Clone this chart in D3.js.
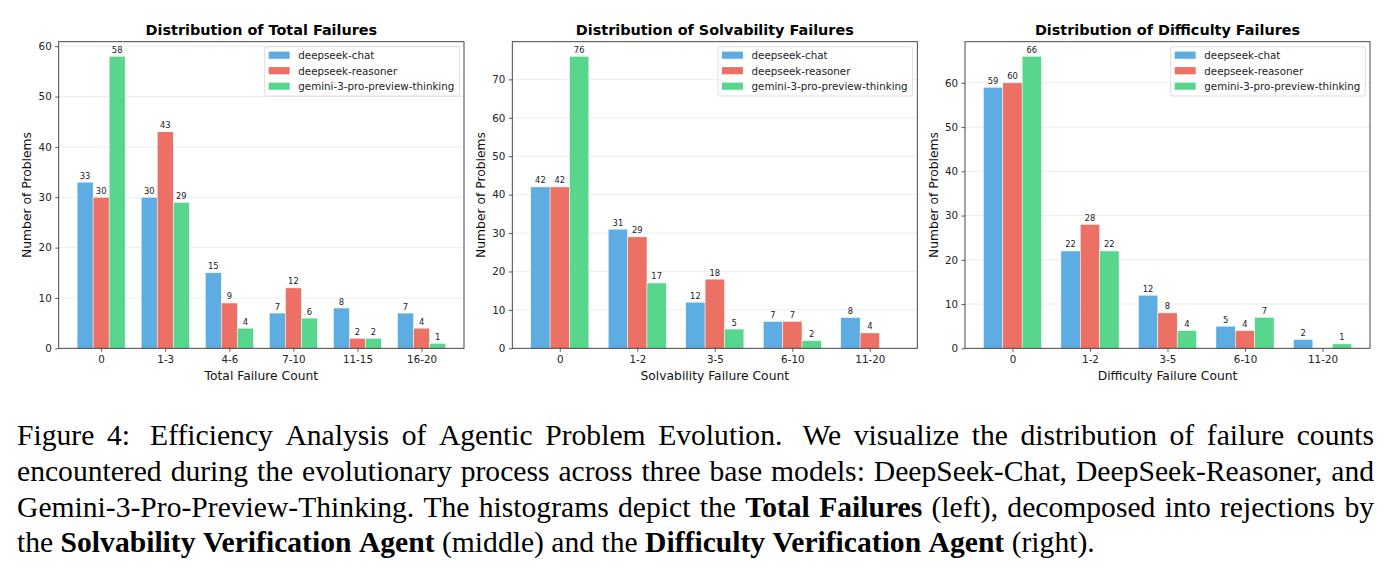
<!DOCTYPE html>
<html><head><meta charset="utf-8">
<script src="https://cdn.jsdelivr.net/npm/d3@7"></script>
<style>body{margin:0;background:#fff} svg{display:block}</style></head>
<body>
<svg id="c" width="1393" height="574"></svg>
<script>
// ---------- data ----------
const seriesNames = ["deepseek-chat", "deepseek-reasoner", "gemini-3-pro-preview-thinking"];
const seriesColors = ["#5DADE2", "#EC7063", "#58D68D"];

const totalCats = ["0", "1-3", "4-6", "7-10", "11-15", "16-20"];
const totalChat = [33, 30, 15, 7, 8, 7];
const totalReasoner = [30, 43, 9, 12, 2, 4];
const totalGemini = [58, 29, 4, 6, 2, 1];

const solvCats = ["0", "1-2", "3-5", "6-10", "11-20"];
const solvChat = [42, 31, 12, 7, 8];
const solvReasoner = [42, 29, 18, 7, 4];
const solvGemini = [76, 17, 5, 2, 0];

const diffCats = ["0", "1-2", "3-5", "6-10", "11-20"];
const diffChat = [59, 22, 12, 5, 2];
const diffReasoner = [60, 28, 8, 4, 0];
const diffGemini = [66, 22, 4, 7, 1];

const panelTitles = ["Distribution of Total Failures", "Distribution of Solvability Failures", "Distribution of Difficulty Failures"];
const xLabels = ["Total Failure Count", "Solvability Failure Count", "Difficulty Failure Count"];
const yLabel = "Number of Problems";

const captionLines = [
  [["Figure 4:  Efficiency Analysis of Agentic Problem Evolution.  We visualize the distribution of failure counts", false]],
  [["encountered during the evolutionary process across three base models: DeepSeek-Chat, DeepSeek-Reasoner, and", false]],
  [["Gemini-3-Pro-Preview-Thinking. The histograms depict the", false], ["Total Failures", true], ["(left), decomposed into rejections by", false]],
  [["the", false], ["Solvability Verification Agent", true], ["(middle) and the", false], ["Difficulty Verification Agent", true], ["(right).", false]]
];

// ---------- layout ----------
const svg = d3.select("#c");
const SANS = "DejaVu Sans, sans-serif";
const panels = [
  {cats: totalCats, vals: [totalChat, totalReasoner, totalGemini], left: 58.7, right: 464},
  {cats: solvCats, vals: [solvChat, solvReasoner, solvGemini], left: 512.3, right: 917.3},
  {cats: diffCats, vals: [diffChat, diffReasoner, diffGemini], left: 965, right: 1370}
];
const axTop = 41.7, axBottom = 348.3;
const barW = 0.25;

panels.forEach((p, pi) => {
  const n = p.cats.length;
  const lo = -1.5 * barW, hi = n - 1 + 1.5 * barW;
  const pad = 0.05 * (hi - lo);
  const x = d3.scaleLinear().domain([lo - pad, hi + pad]).range([p.left, p.right]);
  const maxV = d3.max(p.vals.flat());
  const y = d3.scaleLinear().domain([0, maxV * 1.05]).range([axBottom, axTop]);
  const yt = d3.range(0, maxV * 1.05, 10);
  const g = svg.append("g");

  // grid
  g.append("g").selectAll("line").data(yt.filter(v => v > 0)).join("line")
    .attr("x1", p.left).attr("x2", p.right)
    .attr("y1", d => y(d)).attr("y2", d => y(d))
    .attr("stroke", "#b0b0b0").attr("stroke-opacity", 0.3).attr("stroke-width", 0.8);

  // bars
  p.vals.forEach((arr, si) => {
    const off = (si - 1) * barW;
    g.append("g").selectAll("rect").data(arr).join("rect")
      .attr("x", (d, i) => x(i + off - barW / 2))
      .attr("width", x(barW) - x(0))
      .attr("y", d => y(d))
      .attr("height", d => y(0) - y(d))
      .attr("fill", seriesColors[si])
      .attr("stroke", "#fff").attr("stroke-width", 0.5);
    g.append("g").selectAll("text").data(arr.map((d, i) => ({d, i})).filter(o => o.d > 0)).join("text")
      .attr("x", o => x(o.i + off))
      .attr("y", o => y(o.d) - 3.5)
      .attr("text-anchor", "middle")
      .attr("font-family", SANS).attr("font-size", 8.4).attr("fill", "#222")
      .text(o => o.d);
  });

  // axes
  const xa = g.append("g").attr("transform", `translate(0,${axBottom})`)
    .call(d3.axisBottom(x).tickValues(d3.range(n)).tickFormat(i => p.cats[i]).tickSize(3.5).tickPadding(3.5));
  const ya = g.append("g").attr("transform", `translate(${p.left},0)`)
    .call(d3.axisLeft(y).tickValues(yt).tickFormat(d3.format("d")).tickSize(3.5).tickPadding(3.5));
  [xa, ya].forEach(a => {
    a.select(".domain").remove();
    a.selectAll("line").attr("stroke", "#333").attr("stroke-width", 0.8);
    a.selectAll("text").attr("font-family", SANS).attr("font-size", 10.3).attr("fill", "#222");
  });

  // frame
  g.append("rect").attr("x", p.left).attr("y", axTop).attr("width", p.right - p.left).attr("height", axBottom - axTop)
    .attr("fill", "none").attr("stroke", "#333").attr("stroke-width", 0.9);

  // titles / labels
  g.append("text").attr("x", (p.left + p.right) / 2).attr("y", 35).attr("text-anchor", "middle")
    .attr("font-family", SANS).attr("font-weight", "bold").attr("font-size", 14.4).attr("fill", "#000")
    .text(panelTitles[pi]);
  g.append("text").attr("x", (p.left + p.right) / 2).attr("y", 380).attr("text-anchor", "middle")
    .attr("font-family", SANS).attr("font-size", 12.3).attr("fill", "#111").text(xLabels[pi]);
  g.append("text").attr("transform", `translate(${p.left - 27.5},${(axTop + axBottom) / 2}) rotate(-90)`)
    .attr("text-anchor", "middle").attr("font-family", SANS).attr("font-size", 12.3).attr("fill", "#111").text(yLabel);

  // legend
  const lg = g.append("g");
  const texts = seriesNames.map((s, i) => lg.append("text").attr("font-family", SANS).attr("font-size", 10.3)
    .attr("fill", "#222").attr("dominant-baseline", "central").text(s));
  const tw = d3.max(texts, t => t.node().getComputedTextLength());
  const lw = 4 + 21 + 8.6 + tw + 5;
  const lx = p.right - 4.7 - lw, ly = axTop + 5;
  lg.insert("rect", "text").attr("x", lx).attr("y", ly).attr("width", lw).attr("height", 49.3).attr("rx", 2)
    .attr("fill", "#fff").attr("fill-opacity", 0.85).attr("stroke", "#d6d6d6").attr("stroke-width", 0.8);
  seriesNames.forEach((s, i) => {
    const cy = ly + 8.5 + i * 15.5;
    lg.append("rect").attr("x", lx + 4).attr("y", cy - 3.6).attr("width", 21).attr("height", 7.2).attr("fill", seriesColors[i]);
    texts[i].attr("x", lx + 4 + 21 + 8.6).attr("y", cy);
  });
});

// ---------- caption (justified) ----------
const SERIF = "Liberation Serif, Times New Roman, serif";
const capLeft = 17, capRight = 1374, lastEnd = 1095;
const baselines = [445, 481, 516.5, 552];

function splitWords(segs) {
  const words = [];
  segs.forEach(([t, b]) => t.split(/ +/).forEach((w, wi, arr) => {
    words.push({w, b, sentence: /[.:]$/.test(w) && wi < arr.length - 1 && /  /.test(t)});
  }));
  return words;
}
// size the caption font so that the (unjustified) last line ends where the reference's does
const probe = svg.append("g");
const lastWords = splitWords(captionLines[captionLines.length - 1]);
let probeW = 0;
lastWords.forEach(o => {
  const t = probe.append("text").attr("font-family", SERIF).attr("font-size", 100)
    .attr("font-weight", o.b ? "bold" : "normal").text(o.w);
  probeW += t.node().getComputedTextLength();
});
const probeSpace = (() => {
  const a = probe.append("text").attr("font-family", SERIF).attr("font-size", 100).text("a a").node().getComputedTextLength();
  const b = probe.append("text").attr("font-family", SERIF).attr("font-size", 100).text("aa").node().getComputedTextLength();
  return a - b;
})();
probeW += probeSpace * (lastWords.length - 1);
probe.remove();
const capSize = 100 * (lastEnd - capLeft) / probeW;

captionLines.forEach((segs, li) => {
  const words = splitWords(segs);
  const cg = svg.append("g");
  words.forEach(o => {
    o.el = cg.append("text").attr("font-family", SERIF).attr("font-size", capSize)
      .attr("font-weight", o.b ? "bold" : "normal").attr("fill", "#000").attr("y", baselines[li]).text(o.w);
    o.wd = o.el.node().getComputedTextLength();
  });
  const total = d3.sum(words, o => o.wd);
  const last = li === captionLines.length - 1;
  const weights = words.slice(0, -1).map(o => o.sentence ? 1.6 : 1);
  const wsum = d3.sum(weights);
  const unit = last ? probeSpace * capSize / 100 : (capRight - capLeft - total) / wsum;
  let cx = capLeft;
  words.forEach((o, i) => {
    o.el.attr("x", cx);
    cx += o.wd + (i < weights.length ? weights[i] * unit : 0);
  });
});
</script>
</body></html>
